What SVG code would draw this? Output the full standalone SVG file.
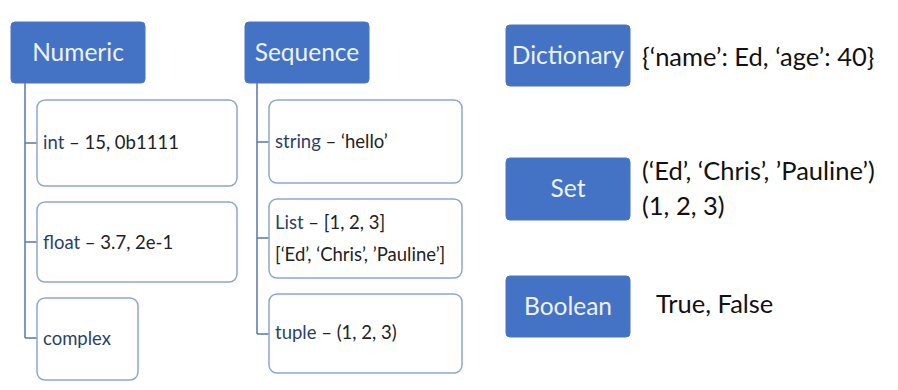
<svg xmlns="http://www.w3.org/2000/svg" width="898" height="390" viewBox="0 0 898 390">
  <style>
    .head rect { fill: #4472C4; stroke: #4A75C0; stroke-width: 1; }
    .head text { fill: #EEF2FA; font-family: Lato, "Open Sans", sans-serif; font-size: 24.5px; text-anchor: middle; }
    .item rect { fill: #FFFFFF; stroke: #8EA6CF; stroke-width: 1.5; }
    .item text { fill: #222222; font-family: Lato, "Open Sans", sans-serif; font-size: 18.5px; }
    .kw { fill: #2C3F66; }
    .plain { fill: #111111; font-family: Lato, "Open Sans", sans-serif; font-size: 25.5px; }
    .links path { fill: none; stroke: #5A77A6; stroke-width: 1.5; }
  </style>

  <rect width="898" height="390" fill="#FFFFFF"/>

  <!-- tree connectors -->
  <g id="connectors" class="links">
    <path d="M25 83 V338 M25 143 H37 M25 242 H37 M25 338 H37"/>
    <path d="M257 83 V334 M257 142 H269 M257 238 H269 M257 334 H269"/>
  </g>

  <!-- Numeric column -->
  <g id="numeric" class="head">
    <rect x="11" y="22" width="134" height="61" rx="4"/>
    <text x="78" y="61">Numeric</text>
  </g>
  <g id="int" class="item">
    <rect x="37" y="100" width="200" height="86" rx="8"/>
    <text x="43" y="149"><tspan class="kw">int</tspan> – 15, 0b1111</text>
  </g>
  <g id="float" class="item">
    <rect x="37" y="202" width="200" height="80" rx="8"/>
    <text x="43" y="249"><tspan class="kw">float</tspan> – 3.7, 2e-1</text>
  </g>
  <g id="complex" class="item">
    <rect x="37" y="298" width="101" height="82" rx="8"/>
    <text x="43" y="345"><tspan class="kw">complex</tspan></text>
  </g>

  <!-- Sequence column -->
  <g id="sequence" class="head">
    <rect x="245" y="22" width="124" height="61" rx="4"/>
    <text x="307" y="61">Sequence</text>
  </g>
  <g id="string" class="item">
    <rect x="269" y="100" width="193" height="83" rx="8"/>
    <text x="275" y="148"><tspan class="kw">string</tspan> – ‘hello’</text>
  </g>
  <g id="list" class="item">
    <rect x="269" y="199" width="193" height="79" rx="8"/>
    <text x="275" y="229"><tspan class="kw">List</tspan> – [1, 2, 3]</text>
    <text x="275" y="261">[‘Ed’, ‘Chris’, ’Pauline’]</text>
  </g>
  <g id="tuple" class="item">
    <rect x="269" y="294" width="193" height="79" rx="8"/>
    <text x="275" y="339"><tspan class="kw">tuple</tspan> – (1, 2, 3)</text>
  </g>

  <!-- stand-alone types -->
  <g id="dictionary">
    <g class="head">
      <rect x="506" y="25" width="124" height="61" rx="4"/>
      <text x="568" y="64">Dictionary</text>
    </g>
    <text class="plain" x="642" y="66">{‘name’: Ed, ‘age’: 40}</text>
  </g>
  <g id="set">
    <g class="head">
      <rect x="506" y="158" width="124" height="62" rx="4"/>
      <text x="568" y="197">Set</text>
    </g>
    <text class="plain" x="642" y="180">(‘Ed’, ‘Chris’, ’Pauline’)</text>
    <text class="plain" x="642" y="215">(1, 2, 3)</text>
  </g>
  <g id="boolean">
    <g class="head">
      <rect x="506" y="276" width="124" height="61" rx="4"/>
      <text x="568" y="315">Boolean</text>
    </g>
    <text class="plain" x="656" y="313">True, False</text>
  </g>
</svg>
